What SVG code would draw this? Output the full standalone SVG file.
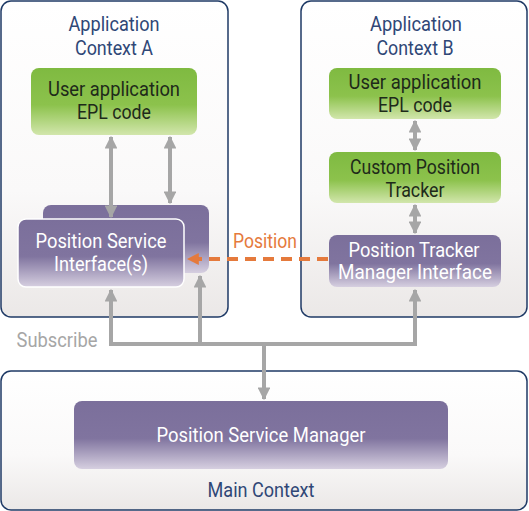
<svg xmlns="http://www.w3.org/2000/svg" width="529" height="511" viewBox="0 0 529 511">
<defs>
<linearGradient id="ctx" x1="0" y1="0" x2="0" y2="1"><stop offset="0" stop-color="#ffffff"/><stop offset="0.6" stop-color="#faf9f9"/><stop offset="1" stop-color="#ebe8e7"/></linearGradient>
<linearGradient id="grn" x1="0" y1="0" x2="0" y2="1"><stop offset="0" stop-color="#7fba41"/><stop offset="0.55" stop-color="#8cc24c"/><stop offset="1" stop-color="#d2e6ac"/></linearGradient>
<linearGradient id="pur" x1="0" y1="0" x2="0" y2="1"><stop offset="0" stop-color="#7b6f9b"/><stop offset="0.55" stop-color="#80749f"/><stop offset="1" stop-color="#d6cfe0"/></linearGradient>
<marker id="ah" viewBox="0 0 10 10" refX="9" refY="5" markerWidth="3.2" markerHeight="3.2" orient="auto-start-reverse"><path d="M0,0 L10,5 L0,10 z" fill="#a6a6a6"/></marker>
<marker id="oh" viewBox="0 0 10 10" refX="9" refY="5" markerWidth="3" markerHeight="3" orient="auto"><path d="M0,0 L10,5 L0,10 z" fill="#e57a3c"/></marker>
</defs>
<style>
.ctx{fill:url(#ctx);stroke:#1f3a66;stroke-width:1.5}
.grn{fill:url(#grn)}
.pur{fill:url(#pur)}
.t{font-family:"Roboto","Liberation Sans",sans-serif;font-size:20px;text-anchor:middle}
.title{fill:#2f4776}
.dark{fill:#1e2a1a}
.white{fill:#ffffff}
.ln{fill:none;stroke:#a6a6a6;stroke-width:4}
</style>
<g id="contextA">
<rect class="ctx" x="1" y="1" width="227" height="316" rx="10"/>
<text class="t title" x="114" y="31" textLength="91" lengthAdjust="spacingAndGlyphs">Application</text>
<text class="t title" x="114" y="55" textLength="78" lengthAdjust="spacingAndGlyphs">Context A</text>
</g>
<g id="contextB">
<rect class="ctx" x="301" y="1" width="226" height="316" rx="10"/>
<text class="t title" x="416" y="31" textLength="92" lengthAdjust="spacingAndGlyphs">Application</text>
<text class="t title" x="415" y="55" textLength="77" lengthAdjust="spacingAndGlyphs">Context B</text>
</g>
<g id="mainContext">
<rect class="ctx" x="1" y="371" width="526" height="139" rx="10"/>
<text class="t title" x="261" y="497" textLength="107" lengthAdjust="spacingAndGlyphs">Main Context</text>
</g>
<g id="userAppA">
<rect class="grn" x="31" y="68" width="166" height="67" rx="8"/>
<text class="t dark" x="114" y="96" textLength="132" lengthAdjust="spacingAndGlyphs">User application</text>
<text class="t dark" x="114" y="119" textLength="74" lengthAdjust="spacingAndGlyphs">EPL code</text>
</g>
<g id="userAppB">
<rect class="grn" x="329" y="68" width="172" height="51" rx="8"/>
<text class="t dark" x="415" y="89" textLength="133" lengthAdjust="spacingAndGlyphs">User application</text>
<text class="t dark" x="415" y="112" textLength="74" lengthAdjust="spacingAndGlyphs">EPL code</text>
</g>
<g id="customTracker">
<rect class="grn" x="329" y="152" width="172" height="51" rx="8"/>
<text class="t dark" x="415" y="174" textLength="130" lengthAdjust="spacingAndGlyphs">Custom Position</text>
<text class="t dark" x="415" y="197" textLength="59" lengthAdjust="spacingAndGlyphs">Tracker</text>
</g>
<g id="trackerManager">
<rect class="pur" x="329" y="235" width="172" height="52" rx="8"/>
<text class="t white" x="414" y="257" textLength="131" lengthAdjust="spacingAndGlyphs">Position Tracker</text>
<text class="t white" x="415" y="279" textLength="154" lengthAdjust="spacingAndGlyphs">Manager Interface</text>
</g>
<g id="serviceInterface">
<rect class="pur" x="43" y="205" width="166" height="68" rx="8"/>
<rect class="pur" x="18" y="219" width="166" height="68" rx="8" stroke="#ffffff" stroke-width="1.5"/>
<text class="t white" x="101" y="248" textLength="131" lengthAdjust="spacingAndGlyphs">Position Service</text>
<text class="t white" x="101" y="271" textLength="94" lengthAdjust="spacingAndGlyphs">Interface(s)</text>
</g>
<g id="serviceManager">
<rect class="pur" x="74" y="401" width="374" height="68" rx="8"/>
<text class="t white" x="261" y="442" textLength="209" lengthAdjust="spacingAndGlyphs">Position Service Manager</text>
</g>
<g id="connectors">
<line class="ln" x1="111" y1="137" x2="111" y2="217" marker-start="url(#ah)" marker-end="url(#ah)"/>
<line class="ln" x1="170" y1="137" x2="170" y2="203" marker-start="url(#ah)" marker-end="url(#ah)"/>
<line class="ln" x1="415" y1="121" x2="415" y2="150" marker-start="url(#ah)" marker-end="url(#ah)"/>
<line class="ln" x1="415" y1="205" x2="415" y2="233" marker-start="url(#ah)" marker-end="url(#ah)"/>
<polyline class="ln" points="111,290 111,344 415,344 415,290" marker-start="url(#ah)" marker-end="url(#ah)"/>
<polyline class="ln" points="200,344 200,276" marker-end="url(#ah)"/>
<line class="ln" x1="264" y1="344" x2="264" y2="399" marker-end="url(#ah)"/>
<line x1="328" y1="259" x2="188" y2="259" stroke="#e57a3c" stroke-width="4" stroke-dasharray="11,7" marker-end="url(#oh)"/>
<text class="t" x="265" y="248" fill="#e57a3c" textLength="64" lengthAdjust="spacingAndGlyphs">Position</text>
<text class="t" x="57" y="347" fill="#a6a6a6" textLength="81" lengthAdjust="spacingAndGlyphs">Subscribe</text>
</g>
</svg>
